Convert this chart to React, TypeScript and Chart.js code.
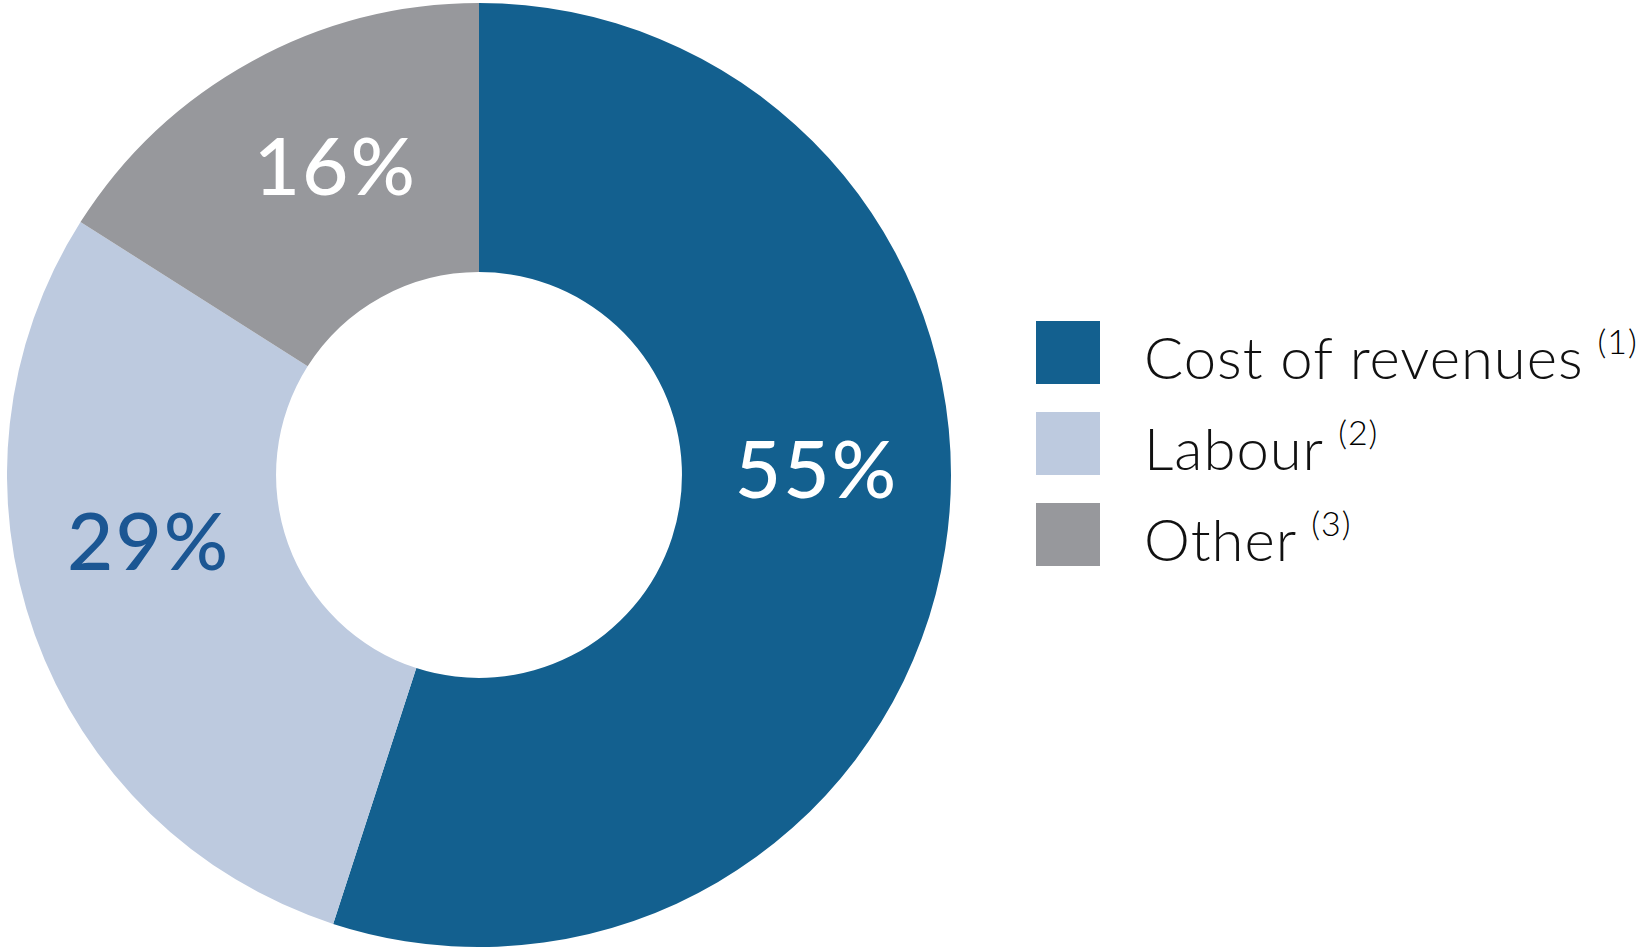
import React, { useEffect, useRef } from "react";
import { Chart, registerables } from "chart.js";

Chart.register(...registerables);

const categories = ["Cost of revenues", "Labour", "Other"];
const footnotes = ["(1)", "(2)", "(3)"];
const shares = [55, 29, 16];
const sliceColors = ["#13608F", "#BDCADF", "#97989C"];
const labelColors = ["#FFFFFF", "#1B5693", "#FFFFFF"];
const labelAngleNudge = [-9.4, 8, 3.6];

const labelPlugin = {
  id: "sliceLabels",
  afterDatasetsDraw(chart: any) {
    const ctx = chart.ctx;
    const meta = chart.getDatasetMeta(0);
    ctx.save();
    ctx.font = "500 80px Lato";
    (ctx as any).letterSpacing = "2px";
    ctx.textAlign = "center";
    ctx.textBaseline = "middle";
    meta.data.forEach((arc: any, i: number) => {
      const p = arc.getProps(["x", "y", "startAngle", "endAngle", "innerRadius", "outerRadius"], true);
      const mid = (p.startAngle + p.endAngle) / 2 + (labelAngleNudge[i] * Math.PI) / 180;
      const r = (p.innerRadius + p.outerRadius) / 2;
      ctx.fillStyle = labelColors[i];
      ctx.fillText(shares[i] + "%", p.x + Math.cos(mid) * r, p.y + Math.sin(mid) * r);
    });
    ctx.restore();
  },
};

export default function App() {
  const canvasRef = useRef<HTMLCanvasElement | null>(null);

  useEffect(() => {
    document.body.style.margin = "0";
    const chart = new Chart(canvasRef.current as HTMLCanvasElement, {
      type: "doughnut",
      data: {
        labels: categories,
        datasets: [
          {
            data: shares,
            backgroundColor: sliceColors,
            borderWidth: 0,
          },
        ],
      },
      options: {
        animation: false,
        responsive: true,
        maintainAspectRatio: false,
        cutout: "43%",
        layout: { padding: 0 },
        plugins: {
          legend: { display: false },
          tooltip: { enabled: false },
        },
      },
      plugins: [labelPlugin],
    });
    return () => chart.destroy();
  }, []);

  return (
    <div style={{ position: "relative", width: 1641, height: 949, background: "#fff" }}>
      <div style={{ position: "absolute", left: 7, top: 3, width: 944, height: 944 }}>
        <canvas ref={canvasRef} />
      </div>
      <div style={{ position: "absolute", left: 1036, top: 320 }}>
        {categories.map((c, i) => (
          <div key={c} style={{ display: "flex", alignItems: "center", height: 64, marginBottom: i < categories.length - 1 ? 27 : 0 }}>
            <div style={{ width: 64, height: 63, background: sliceColors[i], flex: "none" }} />
            <div
              style={{
                marginLeft: 44,
                fontFamily: "Lato",
                fontWeight: 300,
                fontSize: 58,
                letterSpacing: "1px",
                color: "#111",
                whiteSpace: "nowrap",
                position: "relative",
                top: 4,
              }}
            >
              {c}
              <span style={{ fontSize: 34, verticalAlign: "top", position: "relative", top: -2, marginLeft: 14, color: "#000" }}>{footnotes[i]}</span>
            </div>
          </div>
        ))}
      </div>
    </div>
  );
}
